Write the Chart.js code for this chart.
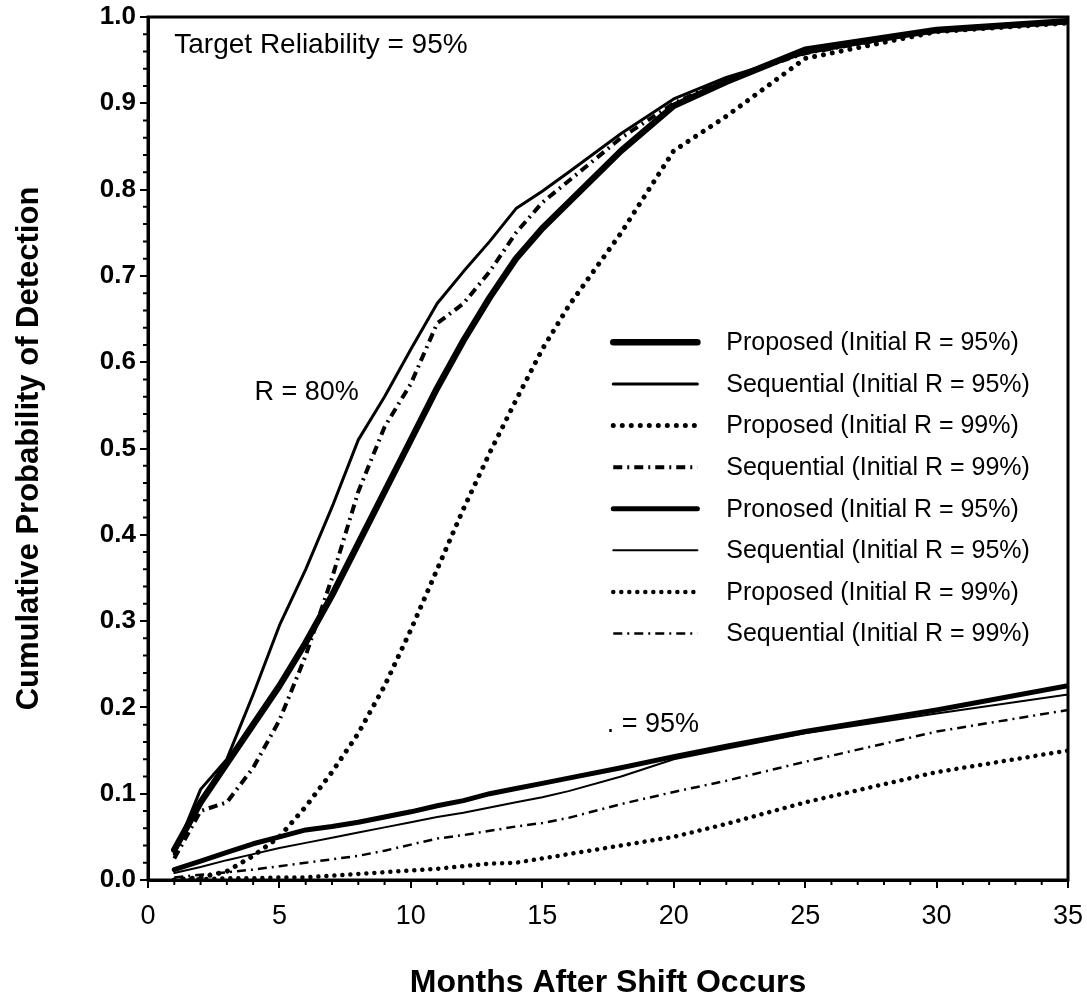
<!DOCTYPE html>
<html><head><meta charset="utf-8">
<script src="https://cdn.jsdelivr.net/npm/chart.js@4/dist/chart.umd.min.js"></script>
<style>html,body{margin:0;padding:0;background:#fff}#wrap{width:1087px;height:1001px;position:relative}</style>
</head><body><div id="wrap"><canvas id="c"></canvas></div>
<script>
// ---- data ----
const months = [1,2,3,4,5,6,7,8,9,10,11,12,13,14,15,16,18,20,22,25,30,35];
// R = 80% group
const proposed95_R80   = [0.035,0.09,0.135,0.18,0.225,0.275,0.33,0.39,0.45,0.51,0.57,0.625,0.675,0.72,0.755,0.785,0.845,0.897,0.925,0.962,0.985,0.995];
const sequential95_R80 = [0.03,0.105,0.14,0.215,0.295,0.36,0.432,0.51,0.56,0.615,0.668,0.705,0.74,0.778,0.798,0.82,0.865,0.905,0.93,0.958,0.985,0.995];
const proposed99_R80   = [0.0,0.003,0.01,0.028,0.05,0.085,0.125,0.17,0.225,0.29,0.36,0.43,0.495,0.556,0.615,0.665,0.75,0.845,0.885,0.952,0.983,0.993];
const sequential99_R80 = [0.025,0.08,0.09,0.13,0.185,0.26,0.35,0.45,0.525,0.575,0.645,0.668,0.705,0.75,0.785,0.81,0.86,0.9,0.928,0.958,0.985,0.995];
// R = 95% group
const proposed95_R95   = [0.012,0.022,0.032,0.042,0.05,0.058,0.062,0.067,0.073,0.079,0.086,0.092,0.1,0.106,0.112,0.118,0.13,0.143,0.155,0.172,0.197,0.225];
const sequential95_R95 = [0.008,0.015,0.023,0.03,0.037,0.043,0.049,0.055,0.061,0.067,0.073,0.078,0.084,0.09,0.096,0.103,0.12,0.14,0.152,0.17,0.193,0.215];
const proposed99_R95   = [0.0,0.001,0.002,0.002,0.003,0.003,0.005,0.007,0.009,0.011,0.013,0.016,0.019,0.02,0.025,0.03,0.04,0.05,0.065,0.09,0.125,0.15];
const sequential99_R95 = [0.003,0.006,0.009,0.012,0.016,0.02,0.024,0.028,0.034,0.041,0.048,0.052,0.057,0.062,0.066,0.072,0.088,0.102,0.115,0.137,0.172,0.197];

const seriesLabels = [
  'Proposed (Initial R = 95%)',
  'Sequential (Initial R = 95%)',
  'Proposed (Initial R = 99%)',
  'Sequential (Initial R = 99%)',
  'Pronosed (Initial R = 95%)',
  'Sequential (Initial R = 95%)',
  'Proposed (Initial R = 99%)',
  'Sequential (Initial R = 99%)'
];
const xTitle = 'Months After Shift Occurs';
const yTitle = 'Cumulative Probability of Detection';
const annotationTexts = ['Target Reliability = 95%', 'R = 80%', '. = 95%'];

// ---- styles ----
const FONT = '"Liberation Sans", Arial, Helvetica, sans-serif';
const styles = [
  {borderWidth:6.5, borderDash:[], cap:'round'},
  {borderWidth:3, borderDash:[], cap:'round'},
  {borderWidth:5, borderDash:[0.01,9], cap:'round'},
  {borderWidth:4, borderDash:[9,5,2,5], cap:'butt'},
  {borderWidth:5, borderDash:[], cap:'round'},
  {borderWidth:2, borderDash:[], cap:'round'},
  {borderWidth:4.5, borderDash:[0.01,8], cap:'round'},
  {borderWidth:2.5, borderDash:[9,5,2,5], cap:'butt'}
];
const seriesValues = [proposed95_R80, sequential95_R80, proposed99_R80, sequential99_R80,
                      proposed95_R95, sequential95_R95, proposed99_R95, sequential99_R95];

const datasets = seriesValues.map((vals, i) => ({
  label: seriesLabels[i],
  data: months.map((m, j) => ({x: m, y: vals[j]})),
  borderColor: '#000',
  backgroundColor: '#000',
  borderWidth: styles[i].borderWidth,
  borderDash: styles[i].borderDash,
  borderCapStyle: styles[i].cap,
  borderJoinStyle: 'round',
  pointRadius: 0,
  tension: 0,
  fill: false
}));

const decorPlugin = {
  id: 'decor',
  afterDraw(chart) {
    const {ctx, chartArea: a, scales: {x, y}} = chart;
    ctx.save();
    ctx.strokeStyle = '#000';
    ctx.fillStyle = '#000';
    ctx.lineWidth = 3;
    ctx.setLineDash([]);
    ctx.strokeRect(a.left, a.top, a.right - a.left, a.bottom - a.top);
    ctx.lineWidth = 2;
    ctx.beginPath();
    for (let v = 0; v <= 35; v++) {
      if (v % 5 === 0) continue;
      const px = x.getPixelForValue(v);
      ctx.moveTo(px, a.bottom); ctx.lineTo(px, a.bottom + 5);
    }
    for (let k = 0; k <= 50; k++) {
      if (k % 5 === 0) continue;
      const py = y.getPixelForValue(k * 0.02);
      ctx.moveTo(a.left - 5, py); ctx.lineTo(a.left, py);
    }
    ctx.stroke();
    ctx.textBaseline = 'middle';
    ctx.textAlign = 'left';
    ctx.font = '28px ' + FONT;
    ctx.fillText(annotationTexts[0], x.getPixelForValue(1.0), y.getPixelForValue(0.967));
    ctx.font = '27px ' + FONT;
    ctx.fillText(annotationTexts[1], x.getPixelForValue(4.05), y.getPixelForValue(0.565));
    ctx.fillText(annotationTexts[2], x.getPixelForValue(17.45), y.getPixelForValue(0.18));
    const lx0 = x.getPixelForValue(17.7), lx1 = x.getPixelForValue(20.9), tx = x.getPixelForValue(22.0);
    const ly0 = y.getPixelForValue(0.623), gap = 41.6;
    ctx.font = '25px ' + FONT;
    chart.data.datasets.forEach((ds, i) => {
      const yy = ly0 + i * gap;
      ctx.lineWidth = ds.borderWidth;
      ctx.setLineDash(ds.borderDash || []);
      ctx.lineCap = ds.borderCapStyle || 'butt';
      ctx.beginPath(); ctx.moveTo(lx0, yy); ctx.lineTo(lx1, yy); ctx.stroke();
      ctx.setLineDash([]);
      ctx.fillText(ds.label, tx, yy + 1);
    });
    ctx.restore();
  }
};

new Chart(document.getElementById('c'), {
  type: 'line',
  data: {datasets},
  options: {
    responsive: true,
    maintainAspectRatio: false,
    animation: false,
    layout: {padding: {top: 17, right: 19, left: 0, bottom: 0}},
    plugins: {legend: {display: false}, tooltip: {enabled: false}},
    scales: {
      x: {
        type: 'linear', min: 0, max: 35,
        ticks: {stepSize: 5, color: '#000', padding: 12, maxRotation: 0, font: {family: FONT, size: 27}},
        grid: {drawOnChartArea: false, drawTicks: true, tickLength: 8, color: '#000', lineWidth: 2},
        border: {display: true, color: '#000', width: 3},
        title: {display: true, text: xTitle, color: '#000', font: {family: FONT, size: 32, weight: 'bold', lineHeight: 1.1}, padding: {top: 0, bottom: 0}},
        afterFit(s) { s.height = 121; s.paddingLeft = 0; s.paddingRight = 0; }
      },
      y: {
        type: 'linear', min: 0, max: 1,
        ticks: {stepSize: 0.1, color: '#000', padding: 4, font: {family: FONT, size: 26, weight: 'bold'},
                callback: v => Number(v).toFixed(1)},
        grid: {drawOnChartArea: false, drawTicks: true, tickLength: 8, color: '#000', lineWidth: 2},
        border: {display: true, color: '#000', width: 3},
        title: {display: true, text: yTitle, color: '#000', font: {family: FONT, size: 31, weight: 'bold'}, padding: {top: 11, bottom: 0}},
        afterFit(s) { s.width = 148; s.paddingTop = 0; s.paddingBottom = 0; }
      }
    }
  },
  plugins: [decorPlugin]
});
</script>
</body></html>
